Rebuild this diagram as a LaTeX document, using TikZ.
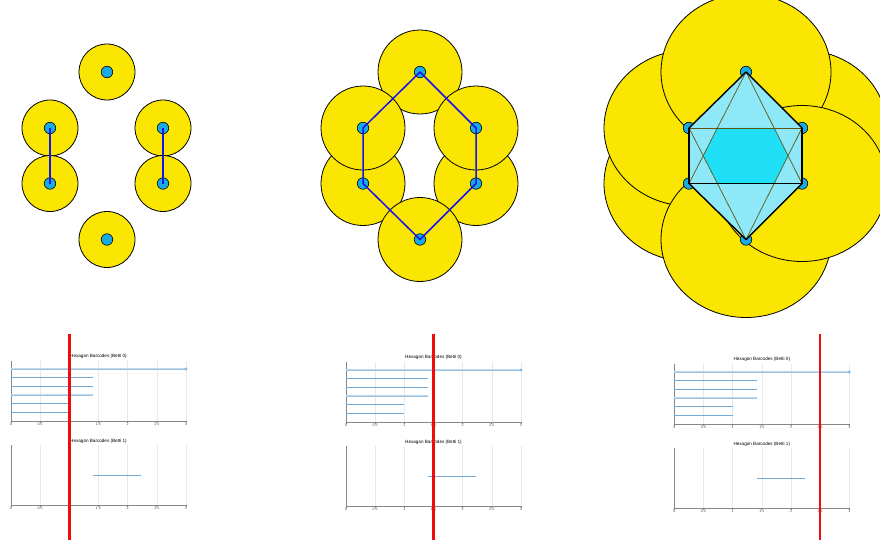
\documentclass[tikz,border=0pt]{standalone}
\usepackage{fontspec}
\setmainfont{Liberation Sans}
\usetikzlibrary{calc}
\definecolor{ballyellow}{RGB}{250,230,0}
\definecolor{dotblue}{RGB}{25,170,225}
\definecolor{linkblue}{RGB}{20,20,238}
\definecolor{facelight}{RGB}{142,232,248}
\definecolor{facedark}{RGB}{32,224,248}
\definecolor{foldolive}{RGB}{95,85,20}
\definecolor{barblue}{RGB}{115,170,215}
\definecolor{barlight}{RGB}{190,216,236}
\definecolor{gridgray}{RGB}{232,232,232}
\definecolor{axisgray}{RGB}{135,135,135}
\definecolor{tickgray}{RGB}{70,70,70}
\definecolor{cutred}{RGB}{240,12,12}
\tikzset{ball/.style = {fill=ballyellow, draw=black, line width=0.8pt},
         vertex/.style = {circle, fill=dotblue, draw=black, line width=0.6pt,
                          inner sep=0pt, minimum size=11.5pt},
         link/.style = {draw=linkblue, line width=1.5pt, line join=round},
         rim/.style = {draw=black, line width=1.4pt, line join=round},
         fold/.style = {draw=foldolive, line width=0.7pt},
         gridline/.style = {draw=gridgray, line width=0.5pt},
         plotaxis/.style = {draw=axisgray, line width=0.8pt},
         bar/.style = {draw=barblue, line width=0.9pt},
         barwide/.style = {draw=barlight, line width=2.2pt},
         cutline/.style = {draw=cutred, line width=2.6pt},
         plottitle/.style = {font=\fontsize{4.6}{5}\selectfont, inner sep=0pt},
         ticklabel/.style = {font=\fontsize{3.6}{4}\selectfont, text=tickgray,
                             inner sep=0pt, anchor=north}}

\begin{document}
\begin{tikzpicture}[x=1pt, y=-1pt]
    \useasboundingbox (0,0) rectangle (880,543);
    \clip (0,0) rectangle (880,543);
    % the six points, once per radius
    \foreach \p/\cx in {a/107, b/420, c/746} {
      \coordinate (\p top) at (\cx, 72);
      \coordinate (\p ul) at (\cx-57, 128);
      \coordinate (\p ur) at (\cx+56, 128);
      \coordinate (\p ll) at (\cx-57, 183.5);
      \coordinate (\p lr) at (\cx+56, 183.5);
      \coordinate (\p bot) at (\cx, 239.5);
    }
    \foreach \v in {top, ul, ur, ll, lr, bot}
      \draw [ball] (a\v) circle [radius=28];
    \foreach \v in {top, ll, ul, lr, ur, bot}
      \draw [ball] (b\v) circle [radius=42];
    \foreach \v in {ll, ul, ur, top, bot, lr}
      \draw [ball] (c\v) ellipse [x radius=85, y radius=78];
    \foreach \p in {a, b, c} {
      \foreach \v in {top, ul, ur, ll, lr, bot}
        \node [vertex] (\p\v dot) at (\p\v) {};
    }
    \draw [link] (aul) -- (all);
    \draw [link] (aur) -- (alr);
    \draw [link] (btop) -- (bur) -- (blr) -- (bbot) -- (bll) -- (bul) -- cycle;
    % filled complex
    \fill [facelight] (ctop) -- (cur) -- (clr) -- (cbot) -- (cll) -- (cul) -- cycle;
    \fill [facedark] ($(ctop)!0.5!(cll)$) -- ($(ctop)!0.5!(clr)$) -- ($(ctop)!0.75!(clr)$)
      -- ($(cbot)!0.5!(cur)$) -- ($(cbot)!0.5!(cul)$) -- ($(ctop)!0.75!(cll)$) -- cycle;
    \draw [fold] (ctop) -- (cll) (ctop) -- (clr) (cbot) -- (cul) (cbot) -- (cur);
    \draw [fold] (cul) -- (cur);
    \draw [black, line width=0.9pt] (cll) -- (clr);
    \draw [black, line width=1.2pt] (cul) -- (cll) (cur) -- (clr);
    \draw [rim] (ctop) -- (cur) -- (clr) -- (cbot) -- (cll) -- (cul) -- cycle;
    % barcodes
    \foreach \ox/\dy/\cut [count=\k] in {11/0/1, 346/1/1.5, 674.3/3/2.5} {
      \begin{scope}[shift={(\ox,\dy)}, x=58.33pt]
        \foreach \t [count=\i] in {0, 0.5, 1, 1.5, 2, 2.5, 3} {
          \draw [gridline] (\t, 360.5) -- (\t, 421);
          \draw [gridline] (\t, 445) -- (\t, 505);
          \draw [plotaxis] (\t, 421) -- (\t, 422.5) node [ticklabel] (zero\k\i) {\t};
          \draw [plotaxis] (\t, 505) -- (\t, 506.5) node [ticklabel] (one\k\i) {\t};
        }
        \draw [plotaxis] (0, 360.5) -- (0, 421) -- (3, 421);
        \draw [plotaxis] (0, 445) -- (0, 505) -- (3, 505);
        \node [plottitle] (title\k a) at (1.5, 356) {Hexagon Barcodes (Betti 0)};
        \node [plottitle] (title\k b) at (1.5, 441) {Hexagon Barcodes (Betti 1)};
        \draw [barwide] (0, 369) -- (3, 369);
        \draw [bar, draw=barblue!70] (0, 369) -- (3, 369);
        \fill [barblue!85] (3, 369) circle [radius=1.7pt];
        \draw [barwide] (0, 395) -- (1.414, 395);
        \draw [bar, draw=barblue!70] (0, 395) -- (1.414, 395);
        \foreach \y/\d in {377.5/1.414, 386.3/1.414, 403.5/1, 412.2/1}
          \draw [bar] (0, \y) -- (\d, \y);
        \draw [bar] (1.414, 475) -- (2.236, 475);
      \end{scope}
      \draw [cutline] (\ox+58.33*\cut, 334) -- (\ox+58.33*\cut, 540);
    }
\end{tikzpicture}
\end{document}
